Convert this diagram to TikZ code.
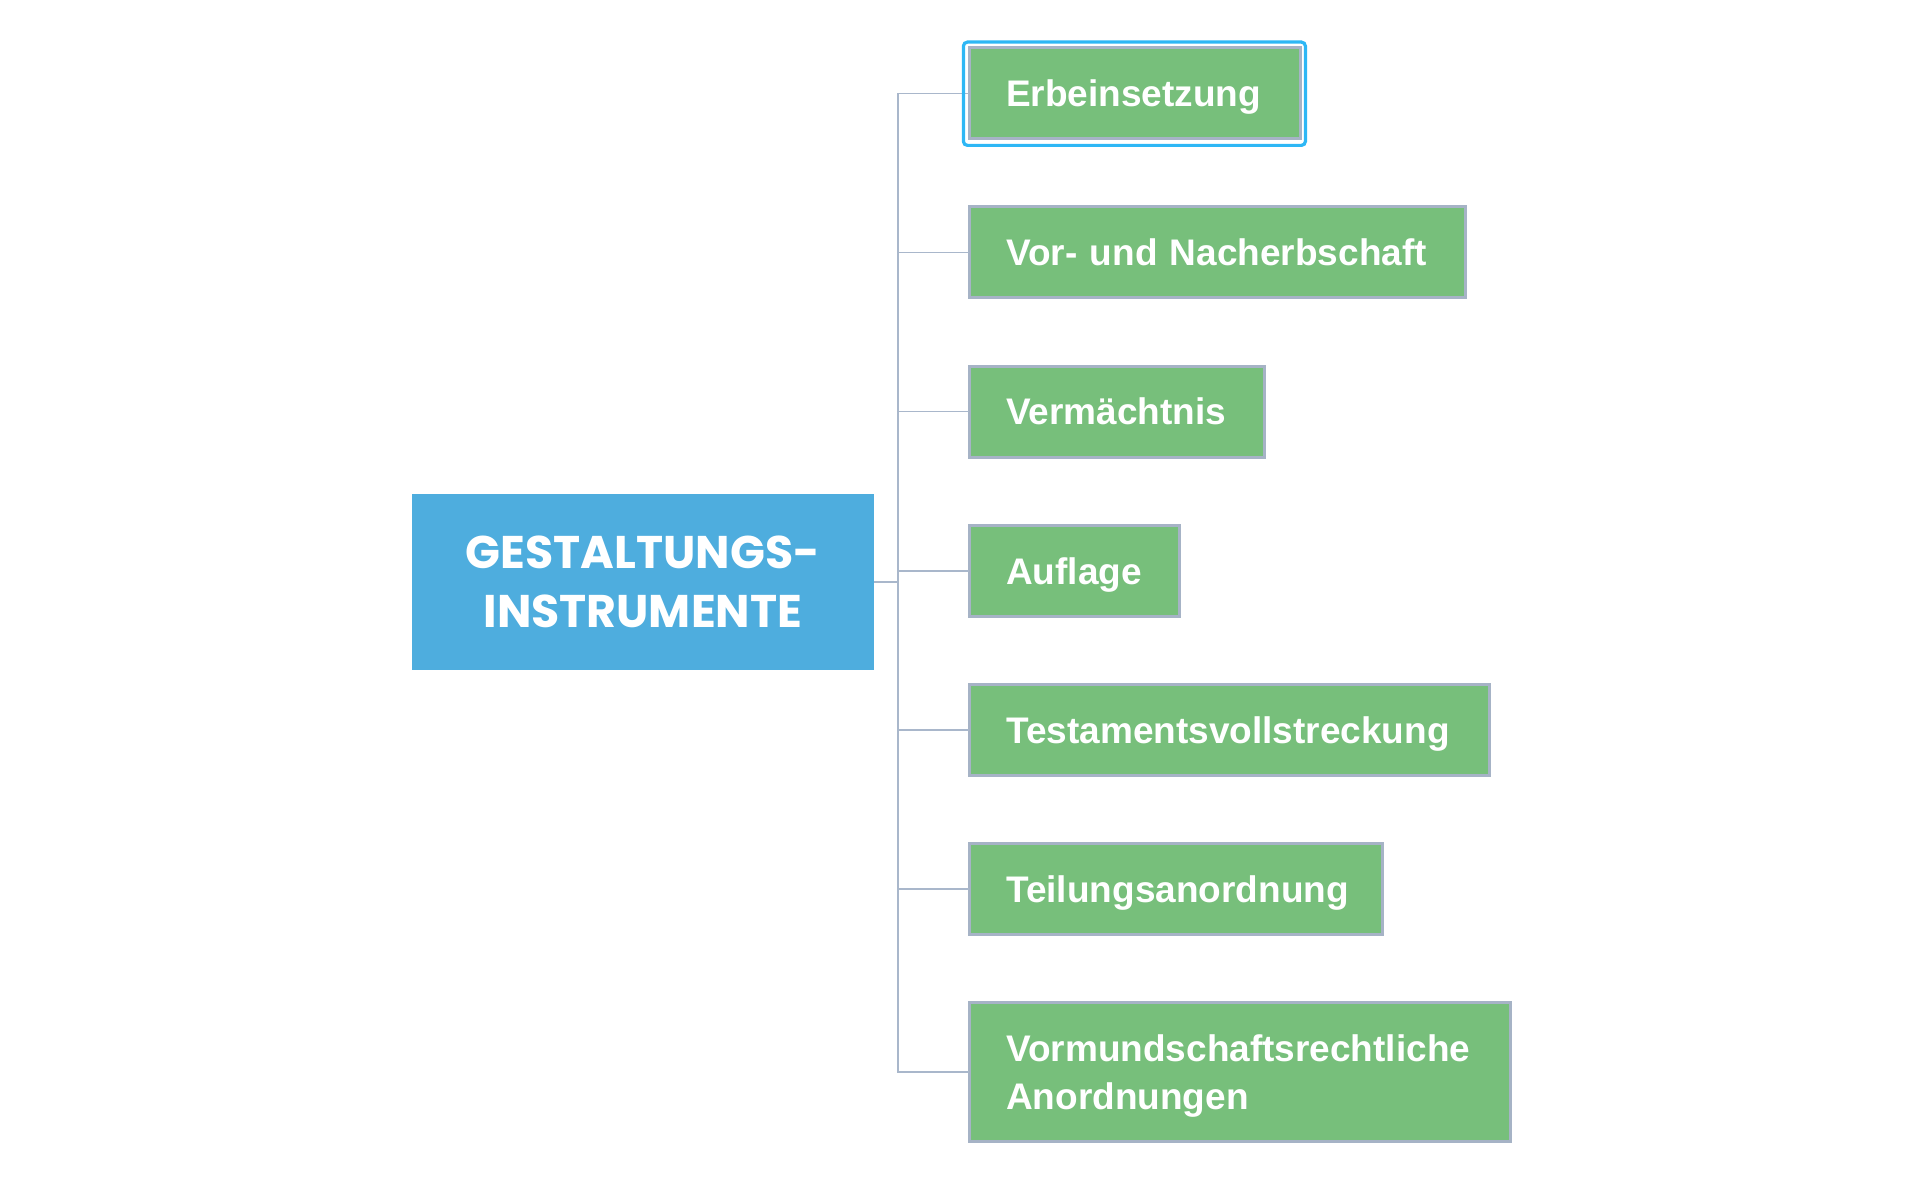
\documentclass[tikz,border=0pt]{standalone}
\usepackage{fontspec}
\newfontfamily\greenfont{Liberation Sans}
\newfontfamily\bluefont{Poppins}
\usetikzlibrary{calc}
\definecolor{boxgreen}{HTML}{77BF7B}
\definecolor{boxborder}{HTML}{A6B3C6}
\definecolor{connc}{HTML}{A9B7CB}
\definecolor{rootblue}{HTML}{4EADDE}
\definecolor{hilite}{HTML}{2EB7F5}
\tikzset{
  leafbox/.style={draw=boxborder, line width=1.5pt, fill=boxgreen, text=white,
    anchor=west, outer sep=0pt, inner xsep=18.5pt, inner ysep=0pt, align=left,
    minimum height=45.5pt, text height=13.35pt, text depth=0pt,
    font=\greenfont\bfseries\fontsize{18.5pt}{24.15pt}\selectfont},
  rootbox/.style={fill=rootblue, text=white, align=center, inner sep=0pt, outer sep=0pt,
    minimum width=231.15pt, minimum height=88pt,
    font=\bluefont\bfseries\fontsize{22.9pt}{29.85pt}\selectfont},
  conn/.style={draw=connc, line width=0.85pt},
  hl/.style={draw=hilite, line width=1.6pt, rounded corners=2pt}
}
\begin{document}
\begin{tikzpicture}[x=0.5pt, y=-0.5pt]
\useasboundingbox (0,0) rectangle (1920,1187);
\node[rootbox] (root) at (642.85,582) {GESTALTUNGS-\\INSTRUMENTE};
\node[leafbox, text width=128.5pt] (e1) at (969.2,93.4) {\mbox{Erbeinsetzung}};
\node[leafbox, text width=211pt] (e2) at (969.2,252.5) {\mbox{Vor- und Nacherbschaft}};
\node[leafbox, text width=110.65pt] (e3) at (969.2,411.6) {\mbox{Vermächtnis}};
\node[leafbox, text width=68pt] (e4) at (969.2,570.7) {\mbox{Auflage}};
\node[leafbox, text width=223pt] (e5) at (969.2,729.8) {\mbox{Testamentsvollstreckung}};
\node[leafbox, text width=169.8pt] (e6) at (969.2,888.9) {\mbox{Teilungsanordnung}};
\node[leafbox, text width=233.5pt, minimum height=69.8pt, text depth=24.15pt] (e7) at (969.2,1072) {\mbox{Vormundschaftsrechtliche}\\\mbox{Anordnungen}};
\coordinate (tr) at (898.3,582);
\draw[conn] (e1.west) -- (tr |- e1.west) -- (tr |- e7.west) -- (e7.west);
\foreach \n in {e2,e3,e4,e5,e6} { \draw[conn] (tr |- \n.west) -- (\n.west); }
\draw[conn] (root.east) -- (tr);
\draw[hl] ($(e1.north west)+(-5.8,-5.8)$) rectangle ($(e1.south east)+(5.2,6.5)$);
\end{tikzpicture}
\end{document}
